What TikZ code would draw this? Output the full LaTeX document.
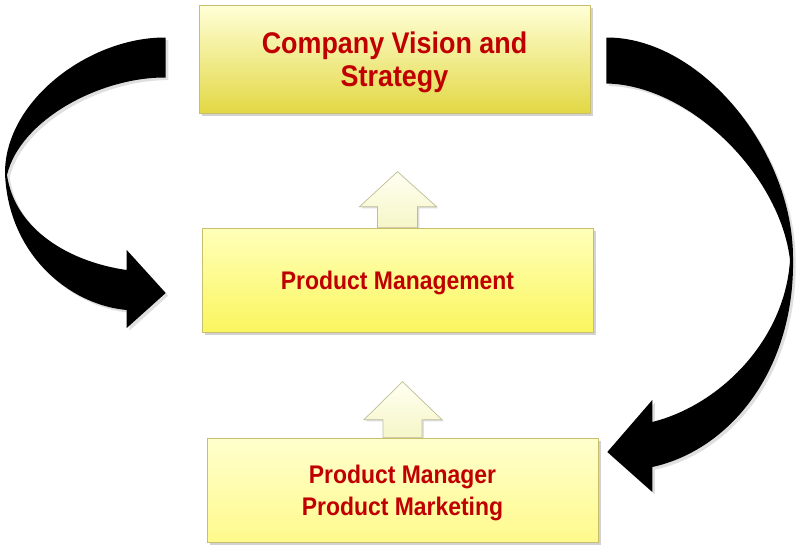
\documentclass[tikz,border=0pt]{standalone}
\usepackage{fontspec}
\newfontfamily\boxfont[FakeStretch=0.9]{Liberation Sans}
\usetikzlibrary{calc,shadows,backgrounds}

\definecolor{boxred}{RGB}{192,0,0}
\definecolor{boxedge}{RGB}{200,190,110}
\definecolor{upedge}{RGB}{190,190,150}
\definecolor{visiontop}{RGB}{255,255,215}
\definecolor{visionbot}{RGB}{226,216,68}
\definecolor{mgmttop}{RGB}{255,255,185}
\definecolor{mgmtbot}{RGB}{250,246,95}
\definecolor{pmtop}{RGB}{255,255,205}
\definecolor{pmbot}{RGB}{255,250,140}
\definecolor{uptop}{RGB}{255,255,242}
\definecolor{upbot}{RGB}{246,246,200}

\tikzset{
  stagebox/.style={rectangle, inner sep=0pt, align=center, text=boxred,
    text depth=0pt, draw=boxedge, line width=0.4pt,
    drop shadow={shadow xshift=1.5pt, shadow yshift=-1.5pt, opacity=0.35}},
  upblock/.style={draw=upedge, line width=0.4pt, top color=uptop, bottom color=upbot,
    drop shadow={shadow xshift=1pt, shadow yshift=-1pt, opacity=0.25}},
  bigarrow/.style={fill=black,
    drop shadow={shadow xshift=1.5pt, shadow yshift=-1.5pt, opacity=0.25}}
}

\begin{document}
\begin{tikzpicture}[x=0.02cm,y=-0.02cm]

  \useasboundingbox (0,0) rectangle (800,551);

  % the three stages
  \node[stagebox, minimum width=7.82cm, minimum height=2.16cm,
    top color=visiontop, bottom color=visionbot,
    font=\boxfont\bfseries\fontsize{17}{18.7}\selectfont] (vision) at (394.5,59)
    {Company Vision and\\Strategy};
  \node[stagebox, minimum width=7.82cm, minimum height=2.08cm,
    top color=mgmttop, bottom color=mgmtbot,
    font=\boxfont\bfseries\fontsize{14.5}{18.1}\selectfont] (mgmt) at (397.5,280)
    {Product Management};
  \node[stagebox, minimum width=7.82cm, minimum height=2.08cm,
    top color=pmtop, bottom color=pmbot,
    font=\boxfont\bfseries\fontsize{14.5}{18.1}\selectfont] (pm) at (402.5,490)
    {Product Manager\\Product Marketing};

  % ends of the curved arrows
  \coordinate (ltail) at ($(vision.west)+(-33,0)$);
  \coordinate (ltip) at ($(mgmt.west)+(-36,13)$);
  \coordinate (rtail) at ($(vision.east)+(16,0)$);
  \coordinate (rtip) at ($(pm.east)+(9,-38)$);

  \begin{scope}[on background layer]
    \fill[white] (0,0) rectangle (800,551);

    % small up arrows
    \draw[upblock] ($(mgmt.north)+(-20,0)$) -- ++(0,-21) -- ++(-18,0)
      -- ($(mgmt.north)+(0,-56)$) -- ($(mgmt.north)+(39,-21)$)
      -- ++(-19,0) -- ($(mgmt.north)+(20,0)$) -- cycle;
    \draw[upblock] ($(pm.north)+(-19.5,0)$) -- ++(0,-18) -- ++(-19,0)
      -- ($(pm.north)+(0,-56)$) -- ($(pm.north)+(39.5,-18)$)
      -- ++(-20,0) -- ($(pm.north)+(19.5,0)$) -- cycle;

    % left curved arrow
    \fill[bigarrow] ($(ltail)+(0,-21.5)$) .. controls (90,37) and (5,100) .. (5,173)
      .. controls (8,255) and (70,305) .. ($(ltip)+(-39,17)$)
      -- ($(ltip)+(-39,35)$) -- (ltip) -- ($(ltip)+(-39,-43)$)
      -- ($(ltip)+(-39,-23)$) .. controls (70,262) and (15,230) .. (7,175)
      .. controls (20,120) and (100,77) .. ($(ltail)+(0,18.5)$) -- cycle;

    % right curved arrow
    \fill[bigarrow] ($(rtail)+(0,-21.5)$) .. controls (700,37) and (793,150) .. (793,258)
      .. controls (795,370) and (730,450) .. ($(rtip)+(45,15)$)
      -- ($(rtip)+(45,40)$) -- (rtip) -- ($(rtip)+(45,-52)$)
      -- ($(rtip)+(45,-30)$) .. controls (720,405) and (785,340) .. (790,260)
      .. controls (780,175) and (690,85) .. ($(rtail)+(0,24.5)$) -- cycle;
  \end{scope}

\end{tikzpicture}
\end{document}
